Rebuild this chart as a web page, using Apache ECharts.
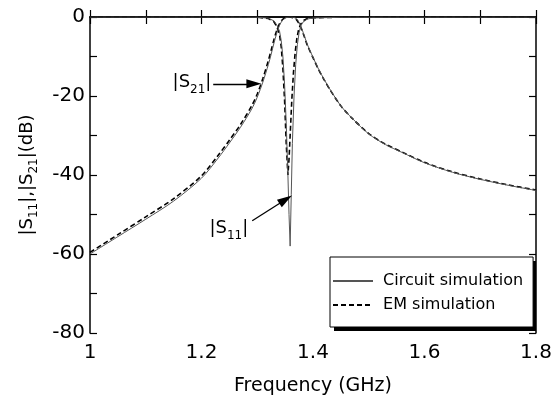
<!DOCTYPE html>
<html>
<head>
<meta charset="utf-8">
<script src="https://cdn.jsdelivr.net/npm/echarts@6/dist/echarts.min.js"></script>
<style>html,body{margin:0;padding:0;background:#fff;}#c{width:559px;height:401px;}</style>
</head>
<body>
<div id="c"></div>
<script>
// ---- data ----
const circuitS21Freq = [1.00,1.05,1.10,1.15,1.20,1.23,1.25,1.27,1.29,1.30,1.31,1.32,1.325,1.33,1.335,1.34,1.345,1.35,1.355,1.36,1.365,1.37,1.375,1.38,1.385,1.39,1.40,1.41,1.42,1.43,1.45,1.47,1.50,1.53,1.56,1.60,1.65,1.70,1.75,1.80];
const circuitS21 = [-60.0,-55.6,-51.2,-46.6,-40.8,-35.7,-31.9,-27.9,-23.3,-20.3,-16.5,-12.0,-9.4,-6.6,-4.1,-2.1,-0.9,-0.3,-0.05,0,-0.1,-0.4,-1.4,-3.0,-5.0,-7.0,-10.2,-13.2,-15.8,-18.2,-22.5,-25.6,-29.6,-32.3,-34.3,-36.9,-39.3,-41.1,-42.6,-43.9];
const circuitS11Freq = [1.00,1.20,1.30,1.32,1.33,1.335,1.34,1.343,1.346,1.349,1.352,1.355,1.357,1.359,1.361,1.363,1.366,1.369,1.372,1.375,1.378,1.382,1.39,1.40,1.45,1.80];
const circuitS11 = [0,0,-0.05,-0.3,-1.0,-2.0,-3.6,-6,-10,-17,-27,-40,-50,-58,-45,-32,-20,-12,-7,-4,-2.3,-1.3,-0.5,-0.25,-0.05,0];
const emS21Freq = [1.00,1.05,1.10,1.15,1.20,1.23,1.25,1.27,1.29,1.30,1.31,1.32,1.325,1.33,1.335,1.34,1.345,1.35,1.355,1.36,1.365,1.37,1.375,1.38,1.385,1.39,1.40,1.41,1.42,1.43,1.45,1.47,1.50,1.53,1.56,1.60,1.65,1.70,1.75,1.80];
const emS21 = [-59.6,-55.1,-50.6,-46.0,-40.2,-35.0,-31.2,-27.2,-22.5,-19.5,-15.6,-11.0,-8.4,-5.7,-3.4,-1.7,-0.7,-0.2,-0.05,-0.05,-0.2,-0.6,-1.7,-3.3,-5.2,-7.2,-10.3,-13.3,-15.9,-18.3,-22.5,-25.6,-29.5,-32.2,-34.2,-36.8,-39.2,-41.0,-42.5,-43.8];
const emS11Freq = [1.00,1.20,1.30,1.32,1.33,1.335,1.34,1.343,1.346,1.349,1.352,1.355,1.357,1.359,1.362,1.365,1.368,1.371,1.374,1.378,1.383,1.39,1.40,1.45,1.80];
const emS11 = [0,0,-0.06,-0.4,-1.2,-2.4,-4.5,-7.5,-13,-21,-32,-40,-36,-30,-21,-14,-9,-5.5,-3.3,-1.8,-0.9,-0.4,-0.2,-0.04,0];
const xTicks = [1, 1.2, 1.4, 1.6, 1.8];
const yTicks = [0, -20, -40, -60, -80];
const seriesNames = ['Circuit simulation', 'EM simulation'];

const zip = (xs, ys) => xs.map((x, i) => [x, ys[i]]);
const FONT = 'DejaVu Sans';

const xLabel = v => { const r = Math.round(v * 10) / 10; return xTicks.some(t => Math.abs(t - r) < 1e-6) ? String(r) : ''; };
const yLabel = v => yTicks.indexOf(Math.round(v)) >= 0 ? String(Math.round(v)) : '';

const axisLine = { show: true, lineStyle: { color: '#000', width: 1.5 } };
const axisTick = { show: true, inside: true, length: 7, lineStyle: { color: '#000', width: 1.2 } };

const solid = { color: '#555', width: 1 };
const dashed = { color: '#000', width: 1.6, type: [5, 3] };

const chart = echarts.init(document.getElementById('c'), null, { renderer: 'canvas' });
chart.setOption({
  animation: false,
  backgroundColor: '#fff',
  grid: { left: 90, right: 23, top: 17, bottom: 66 },
  graphic: [
    // drop shadow of the legend box
    { type: 'rect', left: 334, top: 261, z: 1, zlevel: 0, silent: true,
      shape: { width: 202, height: 70 }, style: { fill: '#000' } }
  ],
  xAxis: [
    { type: 'value', min: 1, max: 1.8, interval: 0.1, position: 'bottom',
      name: 'Frequency (GHz)', nameLocation: 'middle', nameGap: 44,
      nameTextStyle: { fontFamily: FONT, fontSize: 19, color: '#000' },
      axisLine, axisTick, splitLine: { show: false },
      axisLabel: { formatter: xLabel, fontFamily: FONT, fontSize: 20, color: '#000', margin: 10 } },
    { type: 'value', min: 1, max: 1.8, interval: 0.1, position: 'top',
      axisLine, axisTick, splitLine: { show: false }, axisLabel: { show: false } }
  ],
  yAxis: [
    { type: 'value', min: -80, max: 0, interval: 10, position: 'left',
      name: '|S{s|11}|,|S{s|21}|(dB)', nameLocation: 'middle', nameGap: 50,
      nameTextStyle: { fontFamily: FONT, fontSize: 18, color: '#000', lineHeight: 26,
        rich: { s: { fontFamily: FONT, fontSize: 12, color: '#000', lineHeight: 26, verticalAlign: 'bottom' } } },
      axisLine, axisTick, splitLine: { show: false },
      axisLabel: { formatter: yLabel, fontFamily: FONT, fontSize: 20, color: '#000', margin: 5 } },
    { type: 'value', min: -80, max: 0, interval: 10, position: 'right',
      axisLine, axisTick, splitLine: { show: false }, axisLabel: { show: false } }
  ],
  legend: {
    data: seriesNames, orient: 'vertical', left: 330, top: 257, z: 5,
    itemWidth: 40, itemHeight: 14, itemGap: 8, padding: [16, 10, 14, 2],
    backgroundColor: '#fff', borderColor: '#000', borderWidth: 1, borderRadius: 0,
    itemStyle: { opacity: 0 },
    formatter: n => ' ' + n,
    textStyle: { fontFamily: FONT, fontSize: 16, color: '#000' }
  },
  series: [
    { name: seriesNames[0], type: 'line', data: zip(circuitS21Freq, circuitS21), symbol: 'none', smooth: 0.3, lineStyle: solid, itemStyle: { color: '#555' }, z: 3,
      markLine: { silent: true, animation: false, label: { show: false }, lineStyle: { color: '#000', width: 1.3, type: 'solid' },
        data: [
          [{ coord: [1.221, -16.9], symbol: 'none' }, { coord: [1.294, -16.9], symbol: 'triangle', symbolSize: [9, 15] }],
          [{ coord: [1.291, -51.6], symbol: 'none' }, { coord: [1.351, -46.2], symbol: 'triangle', symbolSize: [9, 15] }]
        ] },
      markPoint: { silent: true, animation: false, symbol: 'circle', symbolSize: 0,
        label: { show: true, position: 'inside', fontFamily: FONT, fontSize: 18, color: '#000', lineHeight: 26,
          rich: { s: { fontFamily: FONT, fontSize: 12, color: '#000', lineHeight: 26, verticalAlign: 'bottom' } } },
        data: [
          { coord: [1.183, -16.6], label: { formatter: '|S{s|21}|' } },
          { coord: [1.249, -53.6], label: { formatter: '|S{s|11}|' } }
        ] } },
    { name: seriesNames[0], type: 'line', data: zip(circuitS11Freq, circuitS11), symbol: 'none', lineStyle: solid, itemStyle: { color: '#555' }, z: 3 },
    { name: seriesNames[1], type: 'line', data: zip(emS21Freq, emS21), symbol: 'none', smooth: 0.3, lineStyle: dashed, itemStyle: { color: '#000' }, z: 2 },
    { name: seriesNames[1], type: 'line', data: zip(emS11Freq, emS11), symbol: 'none', lineStyle: dashed, itemStyle: { color: '#000' }, z: 2 }
  ]
});
</script>
</body>
</html>
